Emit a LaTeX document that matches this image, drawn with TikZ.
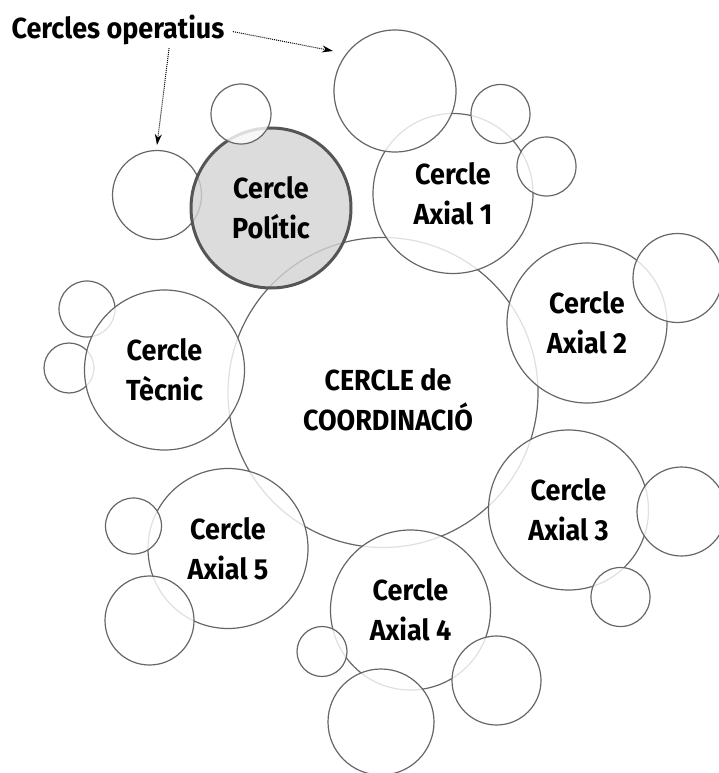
\documentclass[tikz,border=0pt]{standalone}
\usepackage{fontspec}
\setmainfont[FakeStretch=0.93]{Fira Sans}
\usetikzlibrary{arrows.meta}

\definecolor{rimgray}{RGB}{102,102,102}
\definecolor{polgray}{RGB}{85,85,85}
\definecolor{polfill}{RGB}{211,211,211}

\tikzset{every picture/.style={line width=1.2pt}}
\tikzset{
  cercle/.style={circle, draw=rimgray, fill=white, fill opacity=0.8, text opacity=1,
    inner sep=0pt, minimum size=2*#1, align=center,
    font=\fontsize{29}{40}\selectfont\bfseries},
  cercle/.default=80,
  politic/.style={cercle, draw=polgray, fill=polfill, line width=3pt},
  punter/.style={densely dotted, line width=1pt, -{Stealth[length=11pt,width=7pt]}}
}

\begin{document}
\begin{tikzpicture}[x=1pt,y=1pt,yscale=-1,xscale=1]
\useasboundingbox (0,0) rectangle (718,773);

%Shape: Circle (central)
\node [cercle=155] (coord) at (383,392.5) {};
\node [font=\fontsize{29}{40}\selectfont\bfseries, align=center] (coordtxt) at (388,400) {CERCLE de\\COORDINACIÓ};

%Shape: Circle (operatius sota els cercles)
\node [cercle=44.5] (opA) at (157,195) {};
\node [cercle=28] (opB) at (87,309) {};
\node [cercle=25] (opC) at (69,368) {};

%Shape: Circle (cercles)
\node [politic] (politic) at (271,208) {Cercle\\Polític};
\node [cercle] (axial1) at (453,193.5) {Cercle\\Axial 1};
\node [cercle] (axial2) at (587,323) {Cercle\\Axial 2};
\node [cercle] (axial3) at (568.5,510) {Cercle\\Axial 3};
\node [cercle] (axial4) at (410.5,610) {Cercle\\Axial 4};
\node [cercle] (axial5) at (228,548.5) {Cercle\\Axial 5};
\node [cercle] (tecnic) at (164.5,370) {Cercle\\Tècnic};

%Shape: Circle (operatius)
\node [cercle=30] (opD) at (241,114) {};
\node [cercle=61] (opE) at (395,91) {};
\node [cercle=29.5] (opF) at (500.5,114) {};
\node [cercle=29.5] (opG) at (546.5,166.5) {};
\node [cercle=44.5] (opH) at (677.5,278) {};
\node [cercle=44.5] (opI) at (681.5,511.5) {};
\node [cercle=29.5] (opJ) at (620.5,597) {};
\node [cercle=44.5] (opK) at (496.5,680.5) {};
\node [cercle=53] (opL) at (381,722) {};
\node [cercle=25] (opM) at (322,651.5) {};
\node [cercle=44.5] (opN) at (149.5,620.5) {};
\node [cercle=28] (opO) at (133.5,526) {};

% Text Node
\node [font=\fontsize{29}{40}\selectfont\bfseries, anchor=base west, inner sep=2pt] (operatius) at (9,39) {Cercles operatius};

%Straight Lines (punters)
\coordinate (tipE) at (333,51);
\coordinate (tipA) at (157,145);
\draw [punter, shorten <=6pt] (operatius.east) -- (tipE);
\draw [punter] (operatius.-19) -- (tipA);

\end{tikzpicture}
\end{document}
